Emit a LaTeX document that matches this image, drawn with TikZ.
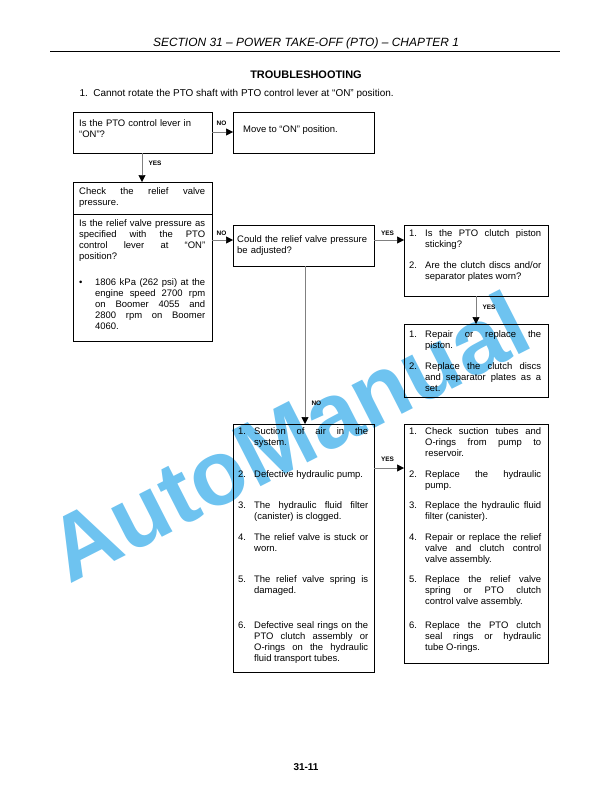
\documentclass[tikz,border=0pt]{standalone}
\usepackage{fontspec}
\setmainfont{Liberation Sans}
\usetikzlibrary{arrows.meta}
\definecolor{wm}{RGB}{110,195,240}
\newcommand{\itm}[2]{\noindent\hangindent=16bp\hangafter=1\makebox[16bp][l]{#1}#2\par}
\tikzset{
  txt/.style={anchor=north west, inner xsep=0pt, inner ysep=0pt, font=\fontsize{9.5}{11.2}\selectfont, align=justify},
  conn/.style={draw=gray, line width=0.5pt, -{Triangle[length=7bp,width=7bp,fill=black,color=black]}},
  lab/.style={font=\bfseries\fontsize{6.5}{7}\selectfont},
  bx/.style={line width=0.8pt}
}
\begin{document}
\begin{tikzpicture}[x=1bp,y=-1bp]
\useasboundingbox (0,0) rectangle (612,792);
\hyphenpenalty=10000 \exhyphenpenalty=10000 \tolerance=10000 \hbadness=10000
% watermark
\node[wm,rotate=27,font=\bfseries\fontsize{92}{94}\selectfont] (wmk) at (288,436) {AutoManual};
% header
\node (hdr) at (306,43) {\itshape\fontsize{12}{14}\selectfont SECTION 31 -- POWER TAKE-OFF (PTO) -- CHAPTER 1};
\draw[line width=0.6pt] (50,51) -- (560,51);
\node (ttl) at (306,75) {\bfseries\fontsize{11}{13}\selectfont TROUBLESHOOTING};
\node[anchor=west] (q1) at (76,94) {\fontsize{10}{12}\selectfont 1.\ \ Cannot rotate the PTO shaft with PTO control lever at “ON” position.};
\node (pg) at (306,767) {\bfseries\fontsize{10}{12}\selectfont 31-11};
% boxes
\draw[bx] (73,112) rectangle (212,153);
\coordinate (b1e) at (212,132); \coordinate (b1s) at (142,153);
\node[txt,text width=125bp,align=left] (b1) at (79,119) {Is the PTO control lever in\\“ON”?};
\draw[bx] (233,112) rectangle (374,153);
\coordinate (b2w) at (233,132);
\node[txt,text width=128bp] (b2) at (243,125) {Move to “ON” position.};
\draw[bx] (73,182) rectangle (212,341);
\draw[bx] (73,214) -- (212,214);
\coordinate (b3n) at (142,182); \coordinate (b4e) at (212,240);
\node[txt,text width=126bp] (b3) at (79,187) {Check the relief valve\break pressure.};
\node[txt,text width=126bp] (b4) at (79,219) {Is the relief valve pressure as\break specified with the PTO\break control lever at “ON”\break position?};
\node[txt,text width=126bp] (b4b) at (79,278) {\itm{•}{1806 kPa (262 psi) at the\break engine speed 2700 rpm\break on Boomer 4055 and\break 2800 rpm on Boomer\break 4060.}};
\draw[bx] (233,225) rectangle (374,266);
\coordinate (b5w) at (233,240); \coordinate (b5e) at (374,240); \coordinate (b5s) at (305,266);
\node[txt,text width=136bp,align=left] (b5) at (237,235) {Could the relief valve pressure\\be adjusted?};
\draw[bx] (404,225) rectangle (548,296);
\coordinate (b6w) at (404,240); \coordinate (b6s) at (476,296);
\node[txt,text width=132bp] (b6a) at (409,229) {\itm{1.}{Is the PTO clutch piston\break sticking?}};
\node[txt,text width=132bp] (b6b) at (409,261) {\itm{2.}{Are the clutch discs and/or\break separator plates worn?}};
\draw[bx] (404,324) rectangle (548,397);
\coordinate (b7n) at (476,324);
\node[txt,text width=132bp] (b7a) at (409,330) {\itm{1.}{Repair or replace the\break piston.}};
\node[txt,text width=132bp] (b7b) at (409,362) {\itm{2.}{Replace the clutch discs\break and separator plates as a\break set.}};
\draw[bx] (233,424) rectangle (374,672);
\coordinate (b8n) at (305,424); \coordinate (b8e) at (374,468);
\node[txt,text width=130bp] (b8a) at (238,427) {\itm{1.}{Suction of air in the\break system.}};
\node[txt,text width=130bp] (b8b) at (238,470) {\itm{2.}{Defective hydraulic pump.}};
\node[txt,text width=130bp] (b8c) at (238,501) {\itm{3.}{The hydraulic fluid filter\break (canister) is clogged.}};
\node[txt,text width=130bp] (b8d) at (238,533) {\itm{4.}{The relief valve is stuck or\break worn.}};
\node[txt,text width=130bp] (b8e2) at (238,575) {\itm{5.}{The relief valve spring is\break damaged.}};
\node[txt,text width=130bp] (b8f) at (238,621) {\itm{6.}{Defective seal rings on the\break PTO clutch assembly or\break O-rings on the hydraulic\break fluid transport tubes.}};
\draw[bx] (404,424) rectangle (548,663);
\coordinate (b9w) at (404,468);
\node[txt,text width=132bp] (b9a) at (409,427) {\itm{1.}{Check suction tubes and\break O-rings from pump to\break reservoir.}};
\node[txt,text width=132bp] (b9b) at (409,470) {\itm{2.}{Replace the hydraulic\break pump.}};
\node[txt,text width=132bp] (b9c) at (409,501) {\itm{3.}{Replace the hydraulic fluid\break filter (canister).}};
\node[txt,text width=132bp] (b9d) at (409,533) {\itm{4.}{Repair or replace the relief\break valve and clutch control\break valve assembly.}};
\node[txt,text width=132bp] (b9e) at (409,575) {\itm{5.}{Replace the relief valve\break spring or PTO clutch\break control valve assembly.}};
\node[txt,text width=132bp] (b9f) at (409,621) {\itm{6.}{Replace the PTO clutch\break seal rings or hydraulic\break tube O-rings.}};
% connectors
\draw[conn] (b1e) -- (b2w) node[lab,pos=0.45,above=3bp] {NO};
\draw[conn] (b1s) -- (b3n) node[lab,pos=0.35,right=3bp] {YES};
\draw[conn] (b4e) -- (b5w) node[lab,pos=0.45,above=1bp] {NO};
\draw[conn] (b5e) -- (b6w) node[lab,pos=0.45,above=1bp] {YES};
\draw[conn] (b6s) -- (b7n) node[lab,pos=0.4,right=3bp] {YES};
\draw[conn] (b5s) -- (b8n) node[lab,pos=0.87,right=3bp] {NO};
\draw[conn] (b8e) -- (b9w) node[lab,pos=0.45,above=3bp] {YES};
\end{tikzpicture}
\end{document}
